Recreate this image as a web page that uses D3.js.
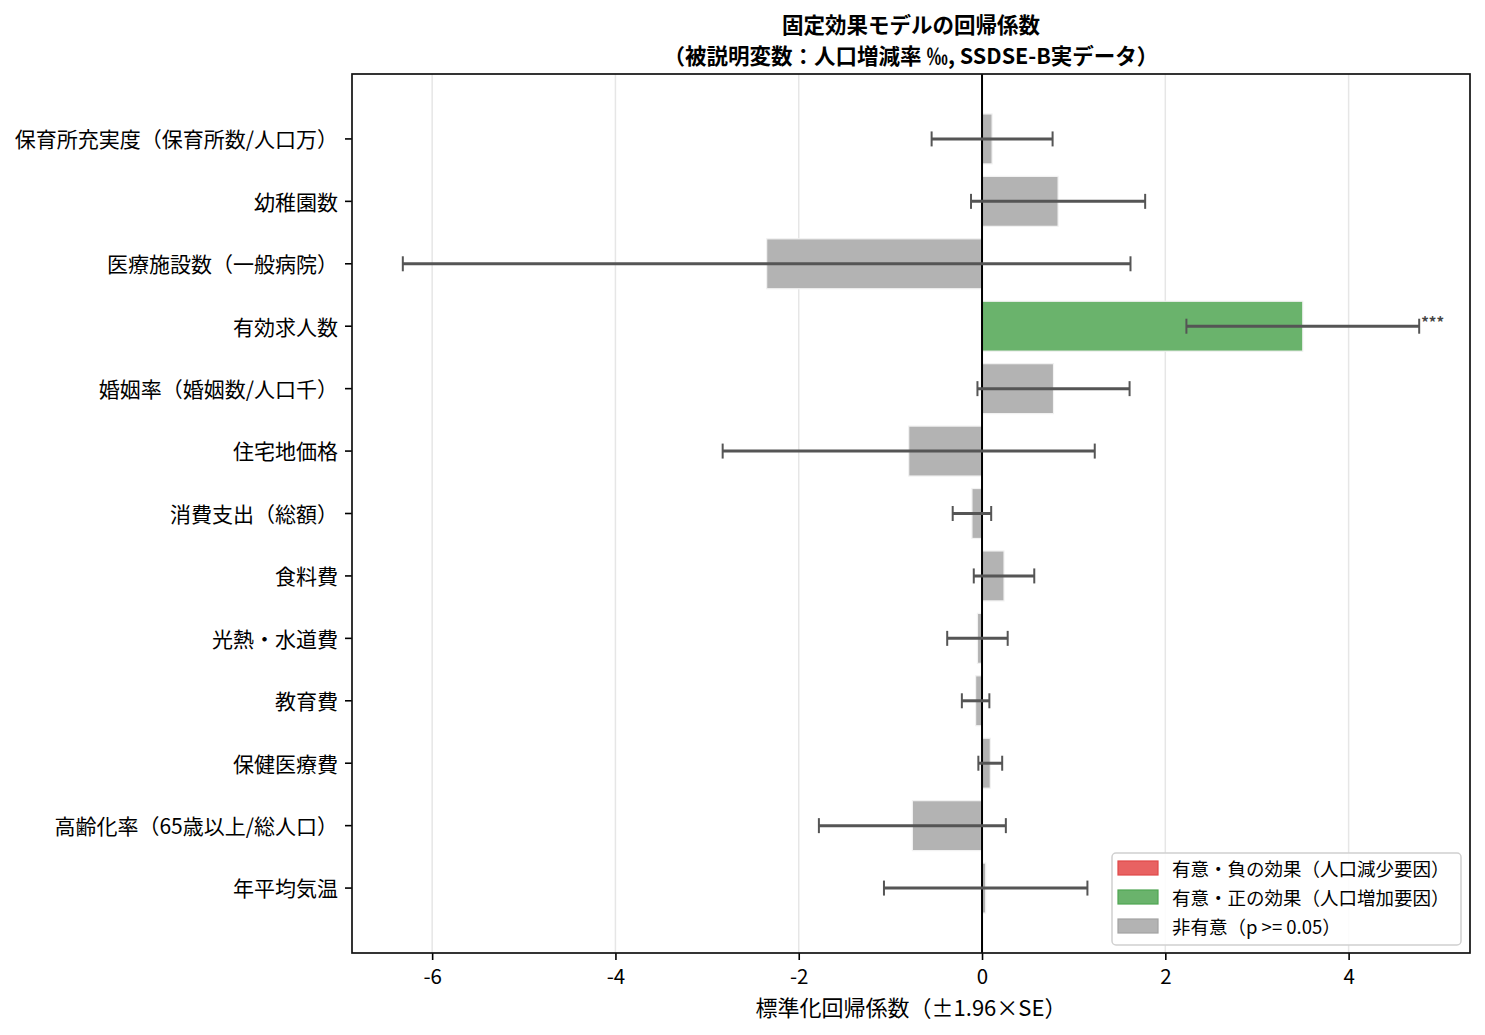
<!DOCTYPE html>
<html>
<head>
<meta charset="utf-8">
<script src="https://cdn.jsdelivr.net/npm/d3@7"></script>
<style>
  body { margin: 0; background: #fff; }
  svg { font-family: "Noto Sans CJK JP", "Noto Sans", sans-serif; }
</style>
</head>
<body>
<div class="chart"></div>
<script>
const svgWidth = 1485
const svgHeight = 1035

const margin = { top: 74, right: 15, bottom: 82, left: 352 }
const width = svgWidth - margin.left - margin.right
const height = svgHeight - margin.top - margin.bottom

// data
const labels = [
  "保育所充実度（保育所数/人口万）",
  "幼稚園数",
  "医療施設数（一般病院）",
  "有効求人数",
  "婚姻率（婚姻数/人口千）",
  "住宅地価格",
  "消費支出（総額）",
  "食料費",
  "光熱・水道費",
  "教育費",
  "保健医療費",
  "高齢化率（65歳以上/総人口）",
  "年平均気温"
]
const coefs = [0.11, 0.83, -2.35, 3.50, 0.78, -0.80, -0.11, 0.24, -0.05, -0.07, 0.09, -0.76, 0.04]
const errs = [0.66, 0.95, 3.97, 1.27, 0.83, 2.03, 0.21, 0.33, 0.33, 0.15, 0.13, 1.02, 1.11]
// 0 = not significant, 1 = positive, -1 = negative
const signif = [0, 0, 0, 1, 0, 0, 0, 0, 0, 0, 0, 0, 0]
const stars = ["", "", "", "***", "", "", "", "", "", "", "", "", ""]
const xTicks = [-6, -4, -2, 0, 2, 4]

const legendItems = [
  { label: "有意・負の効果（人口減少要因）", fill: "#e86262", stroke: "#e04848" },
  { label: "有意・正の効果（人口増加要因）", fill: "#6ab36c", stroke: "#4fa552" },
  { label: "非有意（p >= 0.05）", fill: "#b3b3b3", stroke: "#a2a2a2" }
]
const colorFor = s => s > 0 ? "#6ab36c" : s < 0 ? "#e86262" : "#b3b3b3"

const rows = labels.map((l, i) => ({ label: l, coef: coefs[i], err: errs[i], sig: signif[i], star: stars[i] }))

const svg = d3.select(".chart").append("svg")
  .attr("width", svgWidth)
  .attr("height", svgHeight)

const chartGroup = svg.append("g")
  .attr("transform", `translate(${margin.left}, ${margin.top})`)

// x domain from data plus 5% margin, like matplotlib
let lo = d3.min(rows, d => d.coef - d.err)
let hi = d3.max(rows, d => d.coef + d.err)
let pad = (hi - lo) * 0.05
const xScale = d3.scaleLinear().domain([lo - pad, hi + pad]).range([0, width])

const yScale = d3.scaleBand()
  .domain(labels)
  .range([0, height])
  .paddingInner(0.2)
  .paddingOuter(0.64)

const yMid = d => yScale(d) + yScale.bandwidth() / 2

// grid
chartGroup.append("g")
  .selectAll("line")
  .data(xTicks)
  .enter()
  .append("line")
  .attr("x1", d => xScale(d))
  .attr("x2", d => xScale(d))
  .attr("y1", 0)
  .attr("y2", height)
  .attr("stroke", "#e6e6e6")
  .attr("stroke-width", 1.5)

// bars
chartGroup.append("g")
  .selectAll("rect")
  .data(rows)
  .enter()
  .append("rect")
  .attr("x", d => xScale(Math.min(0, d.coef)))
  .attr("width", d => Math.abs(xScale(d.coef) - xScale(0)))
  .attr("y", d => yScale(d.label))
  .attr("height", yScale.bandwidth())
  .attr("fill", d => colorFor(d.sig))
  .attr("stroke", "#f2f2f2")
  .attr("stroke-width", 1.2)

// zero line
chartGroup.append("line")
  .attr("x1", xScale(0))
  .attr("x2", xScale(0))
  .attr("y1", 0)
  .attr("y2", height)
  .attr("stroke", "#000")
  .attr("stroke-width", 2)

// error bars
let errGroup = chartGroup.append("g").attr("stroke", "#555555")
errGroup.selectAll(".err")
  .data(rows)
  .enter()
  .append("line")
  .classed("err", true)
  .attr("x1", d => xScale(d.coef - d.err))
  .attr("x2", d => xScale(d.coef + d.err))
  .attr("y1", d => yMid(d.label))
  .attr("y2", d => yMid(d.label))
  .attr("stroke-width", 3)

const capHalf = 7.5
errGroup.selectAll(".capL")
  .data(rows)
  .enter()
  .append("line")
  .attr("x1", d => xScale(d.coef - d.err))
  .attr("x2", d => xScale(d.coef - d.err))
  .attr("y1", d => yMid(d.label) - capHalf)
  .attr("y2", d => yMid(d.label) + capHalf)
  .attr("stroke-width", 2)

errGroup.selectAll(".capR")
  .data(rows)
  .enter()
  .append("line")
  .attr("x1", d => xScale(d.coef + d.err))
  .attr("x2", d => xScale(d.coef + d.err))
  .attr("y1", d => yMid(d.label) - capHalf)
  .attr("y2", d => yMid(d.label) + capHalf)
  .attr("stroke-width", 2)

// significance stars
chartGroup.append("g")
  .selectAll("text")
  .data(rows.filter(d => d.star))
  .enter()
  .append("text")
  .attr("x", d => xScale(d.coef + d.err) + 2)
  .attr("y", d => yMid(d.label) - 2)
  .attr("font-size", "15px")
  .attr("font-weight", "bold")
  .attr("fill", "#444")
  .attr("dominant-baseline", "middle")
  .text(d => d.star)

// axes
let bottomAxis = d3.axisBottom(xScale).tickValues(xTicks).tickSize(7).tickPadding(9)
  .tickFormat(d => d < 0 ? "-" + Math.abs(d) : d)
let leftAxis = d3.axisLeft(yScale).tickSize(7).tickPadding(7)

let xAxis = chartGroup.append("g")
  .attr("transform", `translate(0, ${height})`)
  .call(bottomAxis)
xAxis.selectAll("text").attr("font-size", "20.5px").attr("fill", "#000").attr("font-family", "Noto Sans CJK JP")
xAxis.selectAll("line").attr("stroke", "#000").attr("stroke-width", 1.6)
xAxis.select(".domain").remove()

let yAxis = chartGroup.append("g").call(leftAxis)
yAxis.selectAll("text").attr("font-size", "21px").attr("dy", "0.4em").attr("fill", "#000").attr("font-family", "Noto Sans CJK JP")
yAxis.selectAll("line").attr("stroke", "#000").attr("stroke-width", 1.6)
yAxis.select(".domain").remove()

// frame
chartGroup.append("rect")
  .attr("width", width)
  .attr("height", height)
  .attr("fill", "none")
  .attr("stroke", "#111")
  .attr("stroke-width", 1.7)

// titles
svg.append("text")
  .attr("x", margin.left + width / 2)
  .attr("y", 23.5)
  .attr("text-anchor", "middle")
  .attr("dominant-baseline", "central")
  .attr("font-size", "21.5px")
  .attr("font-weight", "bold")
  .text("固定効果モデルの回帰係数")

svg.append("text")
  .attr("x", margin.left + width / 2)
  .attr("y", 54.5)
  .attr("text-anchor", "middle")
  .attr("dominant-baseline", "central")
  .attr("font-size", "21.5px")
  .attr("font-weight", "bold")
  .text("（被説明変数：人口増減率 ‰, SSDSE-B実データ）")

svg.append("text")
  .attr("x", margin.left + width / 2)
  .attr("y", 1006)
  .attr("text-anchor", "middle")
  .attr("dominant-baseline", "central")
  .attr("font-size", "22px")
  .text("標準化回帰係数（±1.96×SE）")

// legend
let legend = svg.append("g").attr("transform", "translate(1112, 853)")
legend.append("rect")
  .attr("width", 349)
  .attr("height", 92)
  .attr("rx", 4)
  .attr("fill", "#fff")
  .attr("fill-opacity", 0.85)
  .attr("stroke", "#d0d0d0")
  .attr("stroke-width", 1.5)

let items = legend.selectAll(".item")
  .data(legendItems)
  .enter()
  .append("g")
  .attr("transform", (d, i) => `translate(0, ${15 + i * 29})`)

items.append("rect")
  .attr("x", 6)
  .attr("y", -7)
  .attr("width", 40)
  .attr("height", 14)
  .attr("fill", d => d.fill)
  .attr("stroke", d => d.stroke)
  .attr("stroke-width", 1.2)

items.append("text")
  .attr("x", 60)
  .attr("y", 0)
  .attr("dominant-baseline", "central")
  .attr("font-size", "18.5px")
  .text(d => d.label)
</script>
</body>
</html>
